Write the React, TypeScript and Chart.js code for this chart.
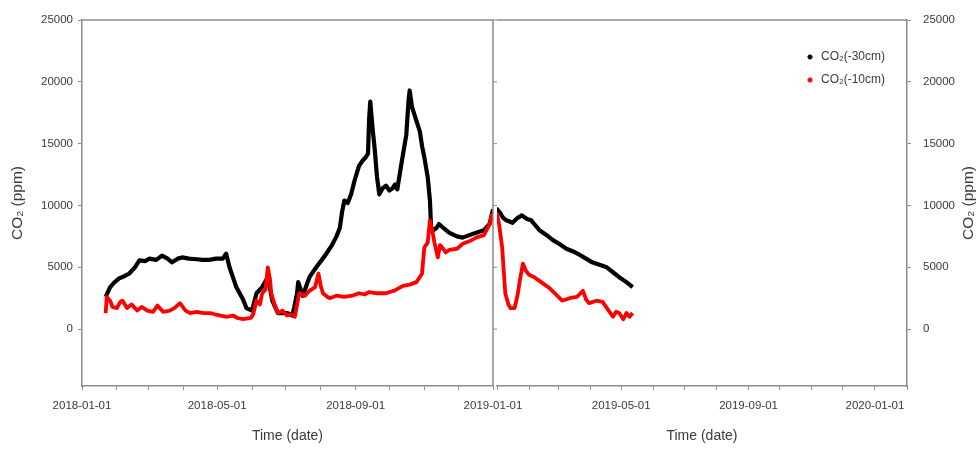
import React, { useEffect, useRef } from "react";
import { Chart, registerables } from "chart.js";

Chart.register(...registerables);

// ---------- data ----------
const deepDates = [
  "2018-01-22","2018-01-26","2018-01-30","2018-02-03","2018-02-08","2018-02-12","2018-02-17","2018-02-21","2018-02-26",
  "2018-03-02","2018-03-08","2018-03-13","2018-03-18","2018-03-22","2018-03-27","2018-03-31","2018-04-06","2018-04-13",
  "2018-04-18","2018-04-24","2018-04-30","2018-05-06","2018-05-09","2018-05-12","2018-05-15","2018-05-18","2018-05-21",
  "2018-05-24","2018-05-27","2018-06-01","2018-06-05","2018-06-10","2018-06-15","2018-06-19","2018-06-24","2018-07-02",
  "2018-07-07","2018-07-11","2018-07-12","2018-07-16","2018-07-22","2018-07-28","2018-08-02","2018-08-06","2018-08-11",
  "2018-08-15","2018-08-18","2018-08-20","2018-08-22","2018-08-25","2018-08-28","2018-08-31","2018-09-02","2018-09-04",
  "2018-09-07","2018-09-10","2018-09-12","2018-09-13","2018-09-14","2018-09-16","2018-09-18","2018-09-20","2018-09-22",
  "2018-09-25","2018-09-28","2018-10-01","2018-10-04","2018-10-06","2018-10-08","2018-10-11","2018-10-13","2018-10-16",
  "2018-10-18","2018-10-19","2018-10-21","2018-10-23","2018-10-28","2018-10-30","2018-11-01","2018-11-04","2018-11-06",
  "2018-11-07","2018-11-09","2018-11-12","2018-11-14","2018-11-19","2018-11-23","2018-11-30","2018-12-05","2018-12-11",
  "2018-12-17","2018-12-24","2018-12-29","2019-01-01","2019-01-04","2019-01-07","2019-01-10","2019-01-16","2019-01-21",
  "2019-01-25","2019-01-30","2019-02-03","2019-02-07","2019-02-11","2019-02-18","2019-02-24","2019-03-02","2019-03-09",
  "2019-03-15","2019-03-22","2019-03-28","2019-04-03","2019-04-10","2019-04-17","2019-04-23","2019-04-29","2019-05-06",
  "2019-05-12",
];
const deepValues = [
  2600,3400,3800,4100,4300,4500,5000,5560,5500,
  5700,5600,5950,5700,5400,5700,5800,5700,5650,
  5600,5600,5700,5700,6100,5000,4200,3400,2900,
  2400,1700,1500,2900,3400,4200,2300,1300,1300,
  1100,2900,3800,2700,4200,5000,5600,6100,6800,
  7500,8200,9500,10400,10200,10900,12000,12600,13200,
  13600,13900,14200,17000,18400,16300,14500,12300,10900,
  11400,11600,11200,11400,11700,11300,13000,14100,15700,
  18500,19300,18000,17400,16000,14800,13900,12300,10400,
  8200,8000,8200,8500,8100,7800,7500,7400,7600,
  7800,8000,8500,9700,9400,9000,8800,8600,9000,
  9200,8900,8800,8400,8000,7600,7200,6900,6500,
  6300,6000,5700,5400,5200,5000,4600,4200,3800,
  3400,
];

const shallowDates = [
  "2018-01-22","2018-01-23","2018-01-26","2018-01-28","2018-02-01","2018-02-04","2018-02-06","2018-02-10","2018-02-14",
  "2018-02-19","2018-02-23","2018-02-28","2018-03-05","2018-03-09","2018-03-14","2018-03-20","2018-03-24","2018-03-29",
  "2018-04-03","2018-04-07","2018-04-13","2018-04-19","2018-04-25","2018-04-29","2018-05-04","2018-05-10","2018-05-15",
  "2018-05-19","2018-05-24","2018-05-31","2018-06-02","2018-06-05","2018-06-08","2018-06-10","2018-06-13","2018-06-15",
  "2018-06-17","2018-06-18","2018-06-21","2018-06-24","2018-06-28","2018-07-02","2018-07-06","2018-07-09","2018-07-13",
  "2018-07-18","2018-07-22","2018-07-27","2018-07-30","2018-08-01","2018-08-03","2018-08-07","2018-08-09","2018-08-15",
  "2018-08-22","2018-08-29","2018-09-04","2018-09-09","2018-09-13","2018-09-20","2018-09-28","2018-10-05","2018-10-13",
  "2018-10-19","2018-10-25","2018-10-28","2018-10-30","2018-11-01","2018-11-04","2018-11-06","2018-11-08","2018-11-10",
  "2018-11-13","2018-11-15","2018-11-17","2018-11-20","2018-11-23","2018-11-30","2018-12-05","2018-12-11","2018-12-17",
  "2018-12-24","2018-12-29","2018-12-31","2019-01-01","2019-01-03","2019-01-06","2019-01-09","2019-01-12","2019-01-14",
  "2019-01-18","2019-01-21","2019-01-23","2019-01-26","2019-01-29","2019-02-01","2019-02-06","2019-02-11","2019-02-16",
  "2019-02-21","2019-02-27","2019-03-05","2019-03-12","2019-03-19","2019-03-25","2019-03-28","2019-03-31","2019-04-07",
  "2019-04-13","2019-04-18","2019-04-23","2019-04-26","2019-04-29","2019-05-03","2019-05-06","2019-05-09","2019-05-12",
];
const shallowValues = [
  1300,2600,2300,1800,1700,2200,2300,1700,2000,
  1500,1800,1500,1400,1900,1400,1500,1700,2100,
  1500,1300,1400,1300,1300,1200,1100,1000,1100,
  900,800,900,1200,2300,2000,2900,3200,5000,
  4000,2900,2000,1300,1500,1100,1200,1000,2900,
  2700,3100,3400,4500,3500,2900,2600,2500,2700,
  2600,2700,2900,2800,3000,2900,2900,3100,3500,
  3600,3800,4200,4500,6600,7000,8800,8000,7000,
  5800,6800,6600,6200,6400,6500,6900,7100,7400,
  7600,8500,9200,9300,8500,6600,2900,2000,1700,
  1700,2800,3900,5300,4700,4400,4200,3900,3600,
  3300,2800,2300,2500,2600,3100,2400,2100,2300,
  2200,1600,1000,1400,1300,800,1300,1000,1300,
];

const seriesLabels = ["CO\u2082(-30cm)", "CO\u2082(-10cm)"];
const seriesColors = ["#000000", "#ff0000"];
const yTitle = "CO\u2082 (ppm)";
const xTitle = "Time (date)";
const yMin = -4600;
const yMax = 25000;
const yTickValues = [0, 5000, 10000, 15000, 20000, 25000];
const leftRange = ["2018-01-01", "2019-01-01"];
const rightRange = ["2019-01-01", "2020-02-01"];
const leftTickLabels = ["2018-01-01", "2018-05-01", "2018-09-01", "2019-01-01"];
const rightTickLabels = ["2019-05-01", "2019-09-01", "2020-01-01"];

// ---------- helpers ----------
const W = 976;
const H = 450;
const FONT = "'Liberation Sans', Arial, sans-serif";
const AXIS = "#8c8c8c";
const TEXT = "#3a3a3a";

const toMs = (s: string) => {
  const [y, m, d] = s.split("-").map(Number);
  return Date.UTC(y, m - 1, d);
};
const fmt = (v: number) => new Date(v).toISOString().slice(0, 10);

const monthStarts = (min: number, max: number) => {
  const out: number[] = [];
  const d = new Date(min);
  const y = d.getUTCFullYear();
  let m = d.getUTCMonth();
  let t = Date.UTC(y, m, 1);
  if (t < min) { m++; t = Date.UTC(y, m, 1); }
  while (t <= max) {
    out.push(t);
    m++;
    t = Date.UTC(y, m, 1);
  }
  return out;
};

const toPoints = (dates: string[], vals: number[]) => dates.map((d, i) => ({ x: toMs(d), y: vals[i] }));

const makeDatasets = () => [
  {
    label: seriesLabels[0],
    data: toPoints(deepDates, deepValues),
    borderColor: seriesColors[0],
    backgroundColor: seriesColors[0],
    borderWidth: 4.2,
    pointRadius: 0,
    tension: 0,
    borderJoinStyle: "round" as const,
    clip: 0,
    order: 2,
  },
  {
    label: seriesLabels[1],
    data: toPoints(shallowDates, shallowValues),
    borderColor: seriesColors[1],
    backgroundColor: seriesColors[1],
    borderWidth: 3.8,
    pointRadius: 0,
    tension: 0,
    borderJoinStyle: "round" as const,
    clip: 0,
    order: 1,
  },
];

const xScale = (range: string[], labels: string[]) => ({
  type: "linear" as const,
  min: toMs(range[0]),
  max: toMs(range[1]),
  afterBuildTicks: (s: any) => {
    s.ticks = monthStarts(s.min, s.max).map((v) => ({ value: v }));
  },
  afterFit: (s: any) => { s.height = 64; },
  ticks: {
    autoSkip: false,
    maxRotation: 0,
    minRotation: 0,
    padding: 9,
    color: TEXT,
    font: { family: FONT, size: 11.5 },
    callback: (v: any) => {
      const l = fmt(Number(v));
      return labels.includes(l) ? l : "";
    },
  },
  grid: { drawOnChartArea: false, drawTicks: true, tickLength: 4, color: AXIS, lineWidth: 1 },
  border: { display: true, color: AXIS, width: 1.5 },
  title: { display: true, text: xTitle, color: TEXT, font: { family: FONT, size: 14 }, padding: { top: 0, bottom: 5 } },
});

const yScale = (position: "left" | "right") => ({
  type: "linear" as const,
  position,
  min: yMin,
  max: yMax,
  afterBuildTicks: (s: any) => {
    s.ticks = yTickValues.map((v) => ({ value: v }));
  },
  afterFit: (s: any) => { s.width = position === "left" ? 82 : W - 907; },
  ticks: {
    padding: position === "left" ? 5 : 12,
    color: TEXT,
    font: { family: FONT, size: 11.5 },
    callback: (v: any) => String(v),
  },
  grid: { drawOnChartArea: false, drawTicks: true, tickLength: 4, color: AXIS, lineWidth: 1 },
  border: { display: true, color: AXIS, width: 1.5 },
  title: {
    display: position === "left",
    text: yTitle,
    color: TEXT,
    font: { family: FONT, size: 15.5 },
    padding: { top: 8, bottom: 0 },
  },
});

const leftFrame = {
  id: "leftFrame",
  afterDraw(chart: any) {
    const { ctx, chartArea } = chart;
    const { left, right, top, bottom } = chartArea;
    ctx.save();
    ctx.strokeStyle = AXIS;
    ctx.lineWidth = 1.5;
    ctx.beginPath();
    ctx.moveTo(left, top);
    ctx.lineTo(right, top);
    ctx.lineTo(right, bottom);
    ctx.stroke();
    ctx.lineWidth = 1;
    ctx.beginPath();
    const ys = chart.scales.y;
    ys.ticks.forEach((t: any) => {
      const py = ys.getPixelForValue(t.value);
      ctx.moveTo(right, py);
      ctx.lineTo(right + 4, py);
    });
    ctx.stroke();
    ctx.restore();
  },
};

const rightFrame = {
  id: "rightFrame",
  afterLayout(chart: any) {
    const lg = chart.legend;
    if (lg) {
      const ca = chart.chartArea;
      lg.left = 794;
      lg.top = 40;
      lg.right = ca.right;
      lg.bottom = ca.bottom;
    }
  },
  afterDraw(chart: any) {
    const { ctx, chartArea } = chart;
    const { left, right, top } = chartArea;
    ctx.save();
    ctx.strokeStyle = AXIS;
    ctx.lineWidth = 1.5;
    ctx.beginPath();
    ctx.moveTo(left, top);
    ctx.lineTo(right, top);
    ctx.stroke();
    // right axis title, reading bottom-to-top like the left one
    ctx.translate(969, (chartArea.top + chartArea.bottom) / 2);
    ctx.rotate(-Math.PI / 2);
    ctx.fillStyle = TEXT;
    ctx.font = `15.5px ${FONT}`;
    ctx.textAlign = "center";
    ctx.textBaseline = "middle";
    ctx.fillText(yTitle, 0, 0);
    ctx.restore();
  },
};

function Panel({ side }: { side: "left" | "right" }) {
  const ref = useRef<HTMLCanvasElement>(null);
  useEffect(() => {
    if (!ref.current) return;
    const isLeft = side === "left";
    const chart = new Chart(ref.current, {
      type: "line",
      data: { datasets: makeDatasets() as any },
      options: {
        responsive: false,
        animation: false,
        parsing: false as any,
        layout: {
          padding: isLeft
            ? { left: 0, right: W - 493, top: 20, bottom: 0 }
            : { left: 497, right: 0, top: 20, bottom: 0 },
        },
        scales: {
          x: xScale(isLeft ? leftRange : rightRange, isLeft ? leftTickLabels : rightTickLabels) as any,
          y: yScale(isLeft ? "left" : "right") as any,
        },
        plugins: {
          tooltip: { enabled: false },
          legend: isLeft
            ? { display: false }
            : ({
                display: true,
                position: "chartArea",
                align: "start",
                labels: {
                  usePointStyle: true,
                  pointStyle: "circle",
                  boxWidth: 10,
                  boxHeight: 3,
                  padding: 11,
                  color: TEXT,
                  font: { family: FONT, size: 12 },
                  sort: (a: any, b: any) => a.datasetIndex - b.datasetIndex,
                  generateLabels: (c: any) =>
                    (Chart.defaults.plugins.legend.labels.generateLabels as any)(c).map((l: any) => ({
                      ...l,
                      lineWidth: 1,
                    })),
                },
              } as any),
        },
      },
      plugins: [isLeft ? leftFrame : rightFrame],
    });
    return () => chart.destroy();
  }, [side]);
  return (
    <canvas
      ref={ref}
      width={W}
      height={H}
      style={{ position: "absolute", left: 0, top: 0, width: W, height: H }}
    />
  );
}

export default function App() {
  return (
    <div style={{ position: "fixed", left: 0, top: 0, width: W, height: H, background: "#fff" }}>
      <Panel side="left" />
      <Panel side="right" />
    </div>
  );
}
